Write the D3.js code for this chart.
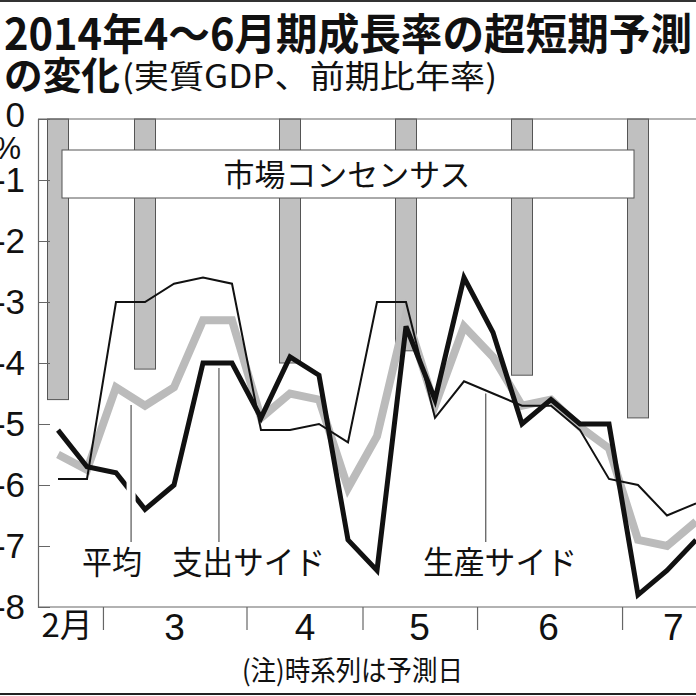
<!DOCTYPE html>
<html>
<head>
<meta charset="utf-8">
<script src="https://cdn.jsdelivr.net/npm/d3@7/dist/d3.min.js"></script>
<style>
  html, body { margin: 0; padding: 0; background: #fff; }
  svg { display: block; }
  .jp { font-family: "Noto Sans CJK JP", sans-serif; fill: #111; }
  .num { font-family: "Liberation Sans Narrow", "Liberation Sans", sans-serif; fill: #111; }
</style>
</head>
<body>
<svg id="chart" width="696" height="696"></svg>
<script>
// weekly forecast points, index 0 = mid Feb
const average     = [-5.5, -5.75, -4.4, -4.7, -4.4, -3.3, -3.3, -4.9, -4.5, -4.6, -6.05, -5.2,
                     -3.2, -4.7, -3.4, -3.9, -4.7, -4.6, -5.05, -5.4, -6.9, -7.0, -6.6];
const expenditure = [-5.1, -5.7, -5.8, -6.4, -6.0, -4.0, -4.0, -4.9, -3.9, -4.2, -6.9, -7.4,
                     -3.4, -4.6, -2.6, -3.5, -5.0, -4.6, -5.0, -5.0, -7.8, -7.4, -6.9];
const production  = [-5.9, -5.9, -3.0, -3.0, -2.7, -2.6, -2.7, -5.1, -5.1, -5.0, -5.3, -3.0,
                     -3.0, -4.9, -4.3, -4.5, -4.7, -4.7, -5.1, -5.9, -6.0, -6.5, -6.3];

// market consensus (bars) at these forecast points
const consensusAt  = [0, 3, 8, 12, 16, 20];
const consensusVal = [-4.6, -4.1, -4.0, -3.8, -4.2, -4.9];

const yTicks = [0, -1, -2, -3, -4, -5, -6, -7, -8];
const monthLabels = ["2月", "3", "4", "5", "6", "7"];
const monthLabelAt = [0.3, 4.0, 8.5, 12.45, 16.9, 21.2];
const monthBreaks = [1.55, 6.5, 10.5, 14.45, 19.45];

const svg = d3.select("#chart");

const x = d3.scaleLinear().domain([0, 22]).range([58, 696]);
const y = d3.scaleLinear().domain([0, -8]).range([119, 607]);
const left = 38;

// title
svg.append("line").attr("x1", 0).attr("x2", 696).attr("y1", 1).attr("y2", 1)
   .attr("stroke", "#333").attr("stroke-width", 2);
svg.append("text").attr("class", "jp").attr("x", 4).attr("y", 50)
   .attr("font-size", 43).attr("font-weight", 700)
   .attr("textLength", 688).attr("lengthAdjust", "spacingAndGlyphs")
   .text("2014年4～6月期成長率の超短期予測");
svg.append("text").attr("class", "jp").attr("x", 4).attr("y", 89)
   .attr("font-size", 38).attr("font-weight", 700)
   .attr("textLength", 116).attr("lengthAdjust", "spacingAndGlyphs")
   .text("の変化");
svg.append("text").attr("class", "jp").attr("x", 122).attr("y", 88)
   .attr("font-size", 32)
   .attr("textLength", 375).attr("lengthAdjust", "spacingAndGlyphs")
   .text("(実質GDP、前期比年率)");

// consensus bars
svg.append("g").selectAll("rect")
  .data(consensusAt)
  .join("rect")
    .attr("x", d => x(d) - 10.5)
    .attr("y", y(0))
    .attr("width", 21)
    .attr("height", (d, i) => y(consensusVal[i]) - y(0))
    .attr("fill", "#c0c0c0")
    .attr("stroke", "#555")
    .attr("stroke-width", 1);

// consensus label box
svg.append("rect")
   .attr("x", 62).attr("y", 150).attr("width", 572).attr("height", 48)
   .attr("fill", "#fff").attr("stroke", "#555").attr("stroke-width", 1);
svg.append("text").attr("class", "jp").attr("x", 347).attr("y", 186)
   .attr("text-anchor", "middle").attr("font-size", 31)
   .attr("textLength", 247).attr("lengthAdjust", "spacingAndGlyphs")
   .text("市場コンセンサス");

// frame
svg.append("line").attr("x1", left).attr("x2", 696).attr("y1", y(0)).attr("y2", y(0))
   .attr("stroke", "#666").attr("stroke-width", 1.2);

// y axis, ticks pointing inward
const yAxis = svg.append("g")
  .attr("transform", `translate(${left},0)`)
  .call(d3.axisLeft(y).tickValues(yTicks).tickSize(-12).tickPadding(13)
          .tickFormat(d => String(d)));
yAxis.select(".domain").attr("stroke", "#666").attr("stroke-width", 1.2);
yAxis.selectAll(".tick line").attr("stroke", "#666");
yAxis.selectAll(".tick text").attr("class", "num").attr("font-size", 35).attr("fill", "#111");
yAxis.selectAll(".tick").filter(d => d === 0).select("line").remove();
yAxis.selectAll(".tick").filter(d => d === 0).select("text").attr("dy", "0.2em");
svg.append("text").attr("class", "num").attr("x", 21).attr("y", 159)
   .attr("text-anchor", "end").attr("font-size", 31).text("%");

// x axis: month breaks and labels
const xAxis = svg.append("g")
  .attr("transform", `translate(0,${y(-8)})`)
  .call(d3.axisBottom(x).tickValues(monthBreaks).tickSize(23).tickFormat(""));
xAxis.select(".domain").remove();
xAxis.selectAll(".tick line").attr("stroke", "#666").attr("stroke-width", 1.2);
svg.append("line").attr("x1", left).attr("x2", 696).attr("y1", y(-8)).attr("y2", y(-8))
   .attr("stroke", "#666").attr("stroke-width", 1.2);

const xLab = svg.append("g")
  .attr("transform", `translate(0,${y(-8)})`)
  .call(d3.axisBottom(x).tickValues(monthLabelAt).tickSize(0).tickPadding(6)
          .tickFormat((d, i) => monthLabels[i]));
xLab.select(".domain").remove();
xLab.selectAll(".tick text").attr("class", "jp").attr("font-size", 33).attr("fill", "#111")
    .attr("dy", "0.72em");
xLab.selectAll(".tick text").filter((d, i) => i > 0)
    .attr("class", "num").attr("font-size", 37);

// lines
const line = d3.line().x((d, i) => x(i)).y(d => y(d));
svg.append("path").datum(average).attr("d", line)
   .attr("fill", "none").attr("stroke", "#bbbbbb").attr("stroke-width", 8);
svg.append("path").datum(production).attr("d", line)
   .attr("fill", "none").attr("stroke", "#111").attr("stroke-width", 2);
svg.append("path").datum(expenditure).attr("d", line)
   .attr("fill", "none").attr("stroke", "#111").attr("stroke-width", 5);

// leaders and labels
function valueAt(series, t) {
  const i = Math.floor(t), f = t - i;
  return series[i] + (series[i + 1] - series[i]) * f;
}
const leaders = [
  { at: 2.52, series: average,     gap: 8, knock: true,  label: "平均",     tx: 82,  tl: 60 },
  { at: 5.55, series: expenditure, gap: 5, knock: false, label: "支出サイド", tx: 172, tl: 153 },
  { at: 14.75, series: production, gap: 3, knock: false, label: "生産サイド", tx: 423, tl: 154 }
];
leaders.forEach(d => {
  const top = y(valueAt(d.series, d.at)) + d.gap;
  if (d.knock) {
    svg.append("line").attr("x1", x(d.at)).attr("x2", x(d.at))
       .attr("y1", top + 10).attr("y2", 542)
       .attr("stroke", "#fff").attr("stroke-width", 9);
  }
  svg.append("line").attr("x1", x(d.at)).attr("x2", x(d.at))
     .attr("y1", top).attr("y2", 542)
     .attr("stroke", "#555").attr("stroke-width", 1.2);
  svg.append("text").attr("class", "jp").attr("x", d.tx).attr("y", 574)
     .attr("font-size", 32)
     .attr("textLength", d.tl).attr("lengthAdjust", "spacingAndGlyphs")
     .text(d.label);
});

// note
svg.append("text").attr("class", "jp").attr("x", 242).attr("y", 681)
   .attr("font-size", 28)
   .attr("textLength", 221).attr("lengthAdjust", "spacingAndGlyphs")
   .text("(注)時系列は予測日");
svg.append("line").attr("x1", 0).attr("x2", 696).attr("y1", 694).attr("y2", 694)
   .attr("stroke", "#222").attr("stroke-width", 2);
</script>
</body>
</html>
